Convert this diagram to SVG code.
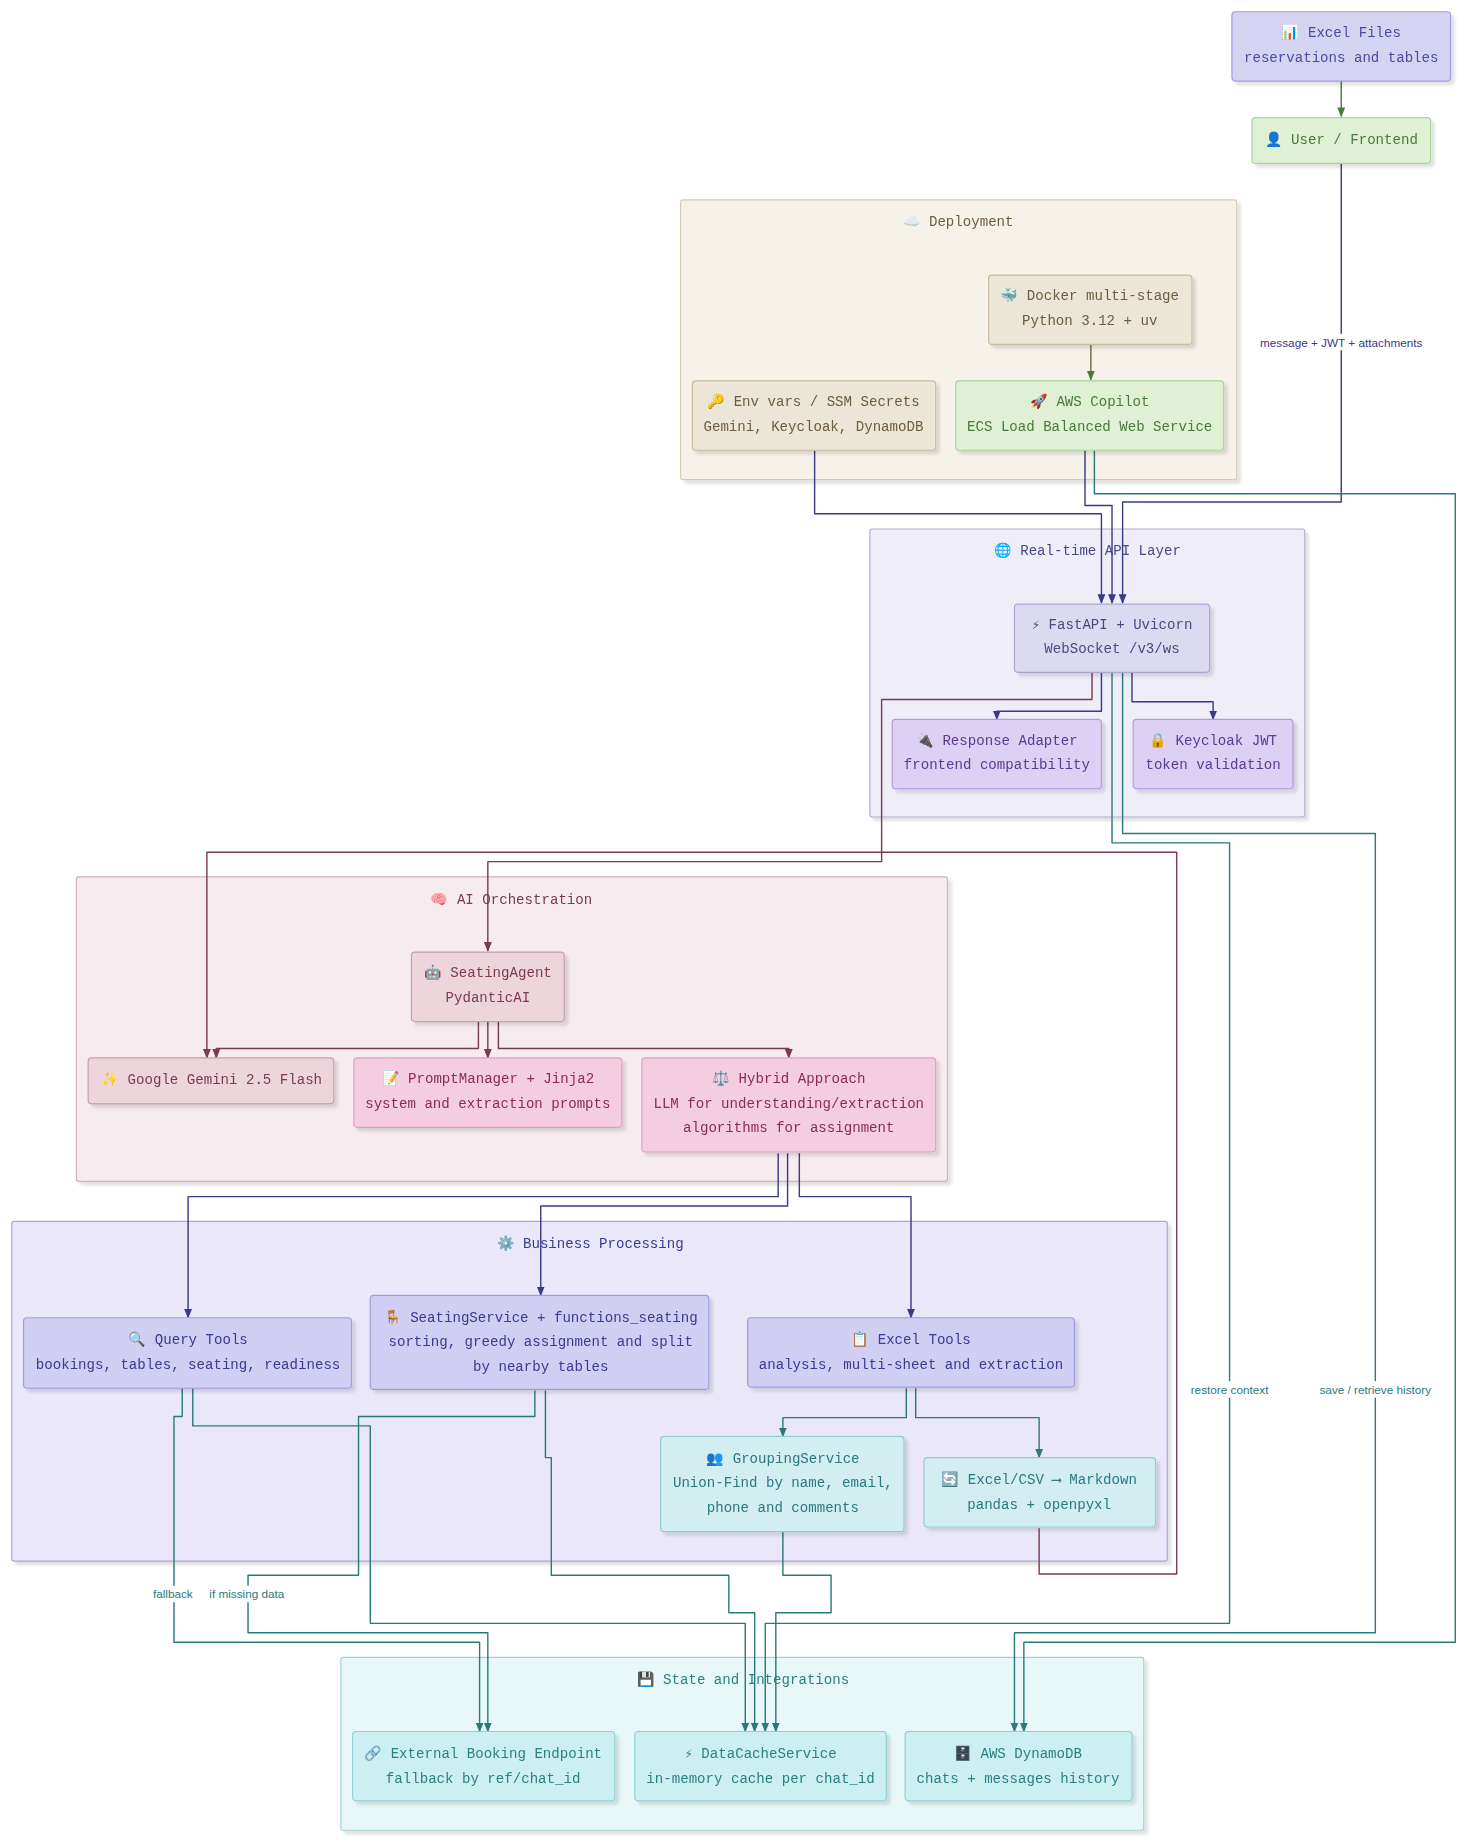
<svg xmlns="http://www.w3.org/2000/svg" width="1469" height="1843" viewBox="0 0 1469 1843">
<style>
text{font-family:"Liberation Mono","DejaVu Sans Mono",monospace;font-size:12px;text-anchor:middle;dominant-baseline:central}
.el{font-family:"Liberation Sans","DejaVu Sans",sans-serif;font-size:10px}
.c{stroke-width:1.2}
.e{fill:none;stroke-width:1.2;stroke-linejoin:round}
.blue rect{fill:#d4d4f2;stroke:#9c9ce0}.blue text{fill:#4a4aa0}
.green rect{fill:#dff0d4;stroke:#a8d49a}.green text{fill:#4a7a3a}
.tan rect{fill:#ece6d8;stroke:#c8bba0}.tan text{fill:#6b5d40}
.api rect{fill:#dcdaf0;stroke:#aaa6d0}.api text{fill:#4a4a80}
.lav rect{fill:#dcd0f5;stroke:#b49ae0}.lav text{fill:#5a3a90}
.mauve rect{fill:#ecd6dc;stroke:#c8a0ac}.mauve text{fill:#7a3a50}
.pink rect{fill:#f5cde0;stroke:#e0a0c0}.pink text{fill:#8a2a5a}
.biz rect{fill:#d0cef2;stroke:#a09ce0}.biz text{fill:#3a3a90}
.tl rect{fill:#d2eef0;stroke:#90ccd0}.tl text{fill:#2a7a80}
.st rect{fill:#ccf0f2;stroke:#90d0d4}.st text{fill:#2a8080}
</style>
<defs>
<filter id="sh" x="-5%" y="-5%" width="115%" height="120%"><feDropShadow dx="3" dy="3" stdDeviation="1.5" flood-color="#000" flood-opacity="0.12"/></filter>
<marker id="aP" viewBox="0 0 10 10" refX="9" refY="5" markerWidth="7" markerHeight="7" orient="auto"><path d="M0,1L10,5L0,9z" fill="#3a3a88"/></marker>
<marker id="aM" viewBox="0 0 10 10" refX="9" refY="5" markerWidth="7" markerHeight="7" orient="auto"><path d="M0,1L10,5L0,9z" fill="#7a3a50"/></marker>
<marker id="aT" viewBox="0 0 10 10" refX="9" refY="5" markerWidth="7" markerHeight="7" orient="auto"><path d="M0,1L10,5L0,9z" fill="#2a7a7a"/></marker>
<marker id="aG" viewBox="0 0 10 10" refX="9" refY="5" markerWidth="7" markerHeight="7" orient="auto"><path d="M0,1L10,5L0,9z" fill="#4a7a3a"/></marker>
</defs>
<rect width="1469" height="1843" fill="#ffffff"/>
<g transform="scale(1.1755)">
<g id="clusters" filter="url(#sh)">
<g id="deployment"><rect x="579" y="170" width="473" height="238" rx="2" fill="#f6f2ea" stroke="#d8ccb0"/><text x="815" y="189" fill="#6b5d40">☁️ Deployment</text></g>
<g id="api-layer"><rect x="740" y="450" width="370" height="245" rx="2" fill="#efedf8" stroke="#b0acd0"/><text x="925" y="469" fill="#4a4a80">🌐 Real-time API Layer</text></g>
<g id="ai-orchestration"><rect x="65" y="746" width="741" height="259" rx="2" fill="#f6ecef" stroke="#d4b0bc"/><text x="435" y="766" fill="#7a3a50">🧠 AI Orchestration</text></g>
<g id="business"><rect x="10" y="1039" width="983" height="289" rx="2" fill="#eae8f8" stroke="#a8a4dc"/><text x="502" y="1058" fill="#3a3a90">⚙️ Business Processing</text></g>
<g id="state"><rect x="290" y="1410" width="683" height="147" rx="2" fill="#e8f8f8" stroke="#a0d4d4"/><text x="632" y="1429" fill="#2a8080">💾 State and Integrations</text></g>
</g>
<g id="connectors">
<path class="e" stroke="#4a7a3a" d="M1141,69V99" marker-end="url(#aG)"/>
<path class="e" stroke="#3a3a88" d="M1141,139V427H955V513" marker-end="url(#aP)"/>
<path class="e" stroke="#3a3a88" d="M693,383V437H937V513" marker-end="url(#aP)"/>
<path class="e" stroke="#6b6b40" d="M928,293V323" marker-end="url(#aG)"/>
<path class="e" stroke="#3a3a88" d="M923,383V430H946V513" marker-end="url(#aP)"/>
<path class="e" stroke="#2a7a7a" d="M931,383V420H1238V1397H871V1473" marker-end="url(#aT)"/>
<path class="e" stroke="#3a3a88" d="M937,572V605H848V612" marker-end="url(#aP)"/>
<path class="e" stroke="#3a3a88" d="M963,572V597H1032V612" marker-end="url(#aP)"/>
<path class="e" stroke="#7a3a50" d="M929,572V595H750V733H415V809" marker-end="url(#aM)"/>
<path class="e" stroke="#7a3a50" d="M884,1300V1339H1001V725H176V900" marker-end="url(#aM)"/>
<path class="e" stroke="#7a3a50" d="M407,869V892H184V900" marker-end="url(#aM)"/>
<path class="e" stroke="#7a3a50" d="M415,869V900" marker-end="url(#aM)"/>
<path class="e" stroke="#7a3a50" d="M424,869V892H671V900" marker-end="url(#aM)"/>
<path class="e" stroke="#3a3a88" d="M662,981V1018H160V1121" marker-end="url(#aP)"/>
<path class="e" stroke="#3a3a88" d="M670,981V1026H460V1102" marker-end="url(#aP)"/>
<path class="e" stroke="#3a3a88" d="M680,981V1018H775V1121" marker-end="url(#aP)"/>
<path class="e" stroke="#2a7a7a" d="M771,1181V1206H666V1222" marker-end="url(#aT)"/>
<path class="e" stroke="#2a7a7a" d="M779,1181V1206H884V1240" marker-end="url(#aT)"/>
<path class="e" stroke="#2a7a7a" d="M155,1181V1205H148V1397H408V1473" marker-end="url(#aT)"/>
<path class="e" stroke="#2a7a7a" d="M455,1183V1205H305V1340H211V1389H415V1473" marker-end="url(#aT)"/>
<path class="e" stroke="#2a7a7a" d="M164,1181V1213H315V1381H634V1473" marker-end="url(#aT)"/>
<path class="e" stroke="#2a7a7a" d="M464,1183V1240H469V1340H620V1372H642V1473" marker-end="url(#aT)"/>
<path class="e" stroke="#2a7a7a" d="M666,1303V1340H707V1372H660V1473" marker-end="url(#aT)"/>
<path class="e" stroke="#2a7a7a" d="M946,572V717H1046V1381H651V1473" marker-end="url(#aT)"/>
<path class="e" stroke="#2a7a7a" d="M955,572V709H1170V1389H863V1473" marker-end="url(#aT)"/>
<g class="el">
<rect x="1068" y="284" width="146" height="14" fill="#fff"/><text class="el" x="1141" y="291" fill="#3a3a88">message + JWT + attachments</text>
<rect x="1010" y="1175" width="72" height="14" fill="#fff"/><text class="el" x="1046" y="1182" fill="#2a7a7a">restore context</text>
<rect x="1118" y="1175" width="104" height="14" fill="#fff"/><text class="el" x="1170" y="1182" fill="#2a7a7a">save / retrieve history</text>
<rect x="127" y="1349" width="40" height="14" fill="#fff"/><text class="el" x="147" y="1356" fill="#2a7a7a">fallback</text>
<rect x="176" y="1349" width="70" height="14" fill="#fff"/><text class="el" x="210" y="1356" fill="#2a7a7a">if missing data</text>
</g>
</g>
<g id="nodes" filter="url(#sh)">
<g id="excel-files" class="blue"><rect x="1048" y="10" width="186" height="59" rx="3"/><text x="1141" y="28">📊 Excel Files</text><text x="1141" y="49">reservations and tables</text></g>
<g id="user" class="green"><rect x="1065" y="100" width="152" height="39" rx="3"/><text x="1141" y="119">👤 User / Frontend</text></g>
<g id="docker" class="tan"><rect x="841" y="234" width="173" height="59" rx="3"/><text x="927" y="252">🐳 Docker multi-stage</text><text x="927" y="273">Python 3.12 + uv</text></g>
<g id="env" class="tan"><rect x="589" y="324" width="207" height="59" rx="3"/><text x="692" y="342">🔑 Env vars / SSM Secrets</text><text x="692" y="363">Gemini, Keycloak, DynamoDB</text></g>
<g id="copilot" class="green"><rect x="813" y="324" width="228" height="59" rx="3"/><text x="927" y="342">🚀 AWS Copilot</text><text x="927" y="363">ECS Load Balanced Web Service</text></g>
<g id="fastapi" class="api"><rect x="863" y="514" width="166" height="58" rx="3"/><text x="946" y="532">⚡ FastAPI + Uvicorn</text><text x="946" y="552">WebSocket /v3/ws</text></g>
<g id="adapter" class="lav"><rect x="759" y="612" width="178" height="59" rx="3"/><text x="848" y="630">🔌 Response Adapter</text><text x="848" y="651">frontend compatibility</text></g>
<g id="keycloak" class="lav"><rect x="964" y="612" width="136" height="59" rx="3"/><text x="1032" y="630">🔒 Keycloak JWT</text><text x="1032" y="651">token validation</text></g>
<g id="agent" class="mauve"><rect x="350" y="810" width="130" height="59" rx="3"/><text x="415" y="828">🤖 SeatingAgent</text><text x="415" y="849">PydanticAI</text></g>
<g id="gemini" class="mauve"><rect x="75" y="900" width="209" height="39" rx="3"/><text x="180" y="919">✨ Google Gemini 2.5 Flash</text></g>
<g id="prompt" class="pink"><rect x="301" y="900" width="228" height="59" rx="3"/><text x="415" y="918">📝 PromptManager + Jinja2</text><text x="415" y="939">system and extraction prompts</text></g>
<g id="hybrid" class="pink"><rect x="546" y="900" width="250" height="80" rx="3"/><text x="671" y="918">⚖️ Hybrid Approach</text><text x="671" y="939">LLM for understanding/extraction</text><text x="671" y="960">algorithms for assignment</text></g>
<g id="query" class="biz"><rect x="20" y="1121" width="279" height="60" rx="3"/><text x="160" y="1140">🔍 Query Tools</text><text x="160" y="1161">bookings, tables, seating, readiness</text></g>
<g id="seating" class="biz"><rect x="315" y="1102" width="288" height="80" rx="3"/><text x="460" y="1121">🪑 SeatingService + functions_seating</text><text x="460" y="1142">sorting, greedy assignment and split</text><text x="460" y="1163">by nearby tables</text></g>
<g id="exceltools" class="biz"><rect x="636" y="1121" width="278" height="59" rx="3"/><text x="775" y="1140">📋 Excel Tools</text><text x="775" y="1161">analysis, multi-sheet and extraction</text></g>
<g id="grouping" class="tl"><rect x="562" y="1222" width="207" height="81" rx="3"/><text x="666" y="1241">👥 GroupingService</text><text x="666" y="1262">Union-Find by name, email,</text><text x="666" y="1283">phone and comments</text></g>
<g id="converter" class="tl"><rect x="786" y="1240" width="197" height="59" rx="3"/><text x="884" y="1259">🔄 Excel/CSV ⟶ Markdown</text><text x="884" y="1280">pandas + openpyxl</text></g>
<g id="external" class="st"><rect x="300" y="1473" width="223" height="59" rx="3"/><text x="411" y="1492">🔗 External Booking Endpoint</text><text x="411" y="1513">fallback by ref/chat_id</text></g>
<g id="datacache" class="st"><rect x="540" y="1473" width="214" height="59" rx="3"/><text x="647" y="1492">⚡ DataCacheService</text><text x="647" y="1513">in-memory cache per chat_id</text></g>
<g id="dynamodb" class="st"><rect x="770" y="1473" width="193" height="59" rx="3"/><text x="866" y="1492">🗄️ AWS DynamoDB</text><text x="866" y="1513">chats + messages history</text></g>
</g>
</g>
</svg>
